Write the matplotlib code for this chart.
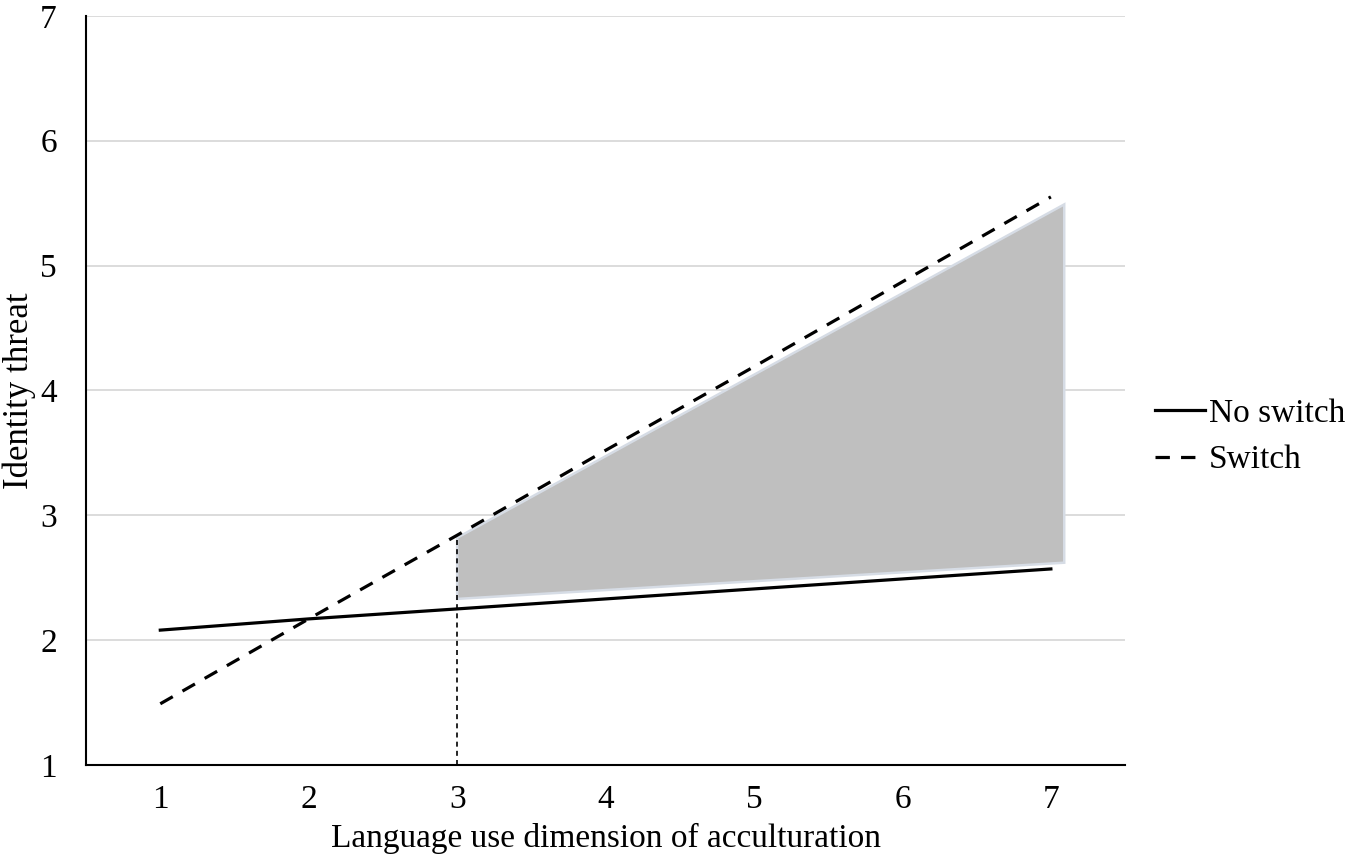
import matplotlib.pyplot as plt
import matplotlib.patches as patches

plt.rcParams['font.family'] = ['Liberation Serif', 'DejaVu Serif']

# data
x = [1, 2, 3, 4, 5, 6, 7]
no_switch = [2.08, 2.17, 2.25, 2.33, 2.41, 2.49, 2.57]
switch = [1.49, 2.17, 2.84, 3.52, 4.19, 4.87, 5.55]
# shaded region of significance (x from 3 up to just past 7)
region_x = [3.0, 7.09, 7.09, 3.0]
region_y = [2.82, 5.49, 2.62, 2.33]
cut_x = 3.0
cut_top = 2.82

fig = plt.figure(figsize=(13.45, 8.63), dpi=100)
ax = fig.add_axes([0.064, 0.1136, 0.7725, 0.868])

ax.add_patch(patches.Polygon(list(zip(region_x, region_y)), closed=True,
                             facecolor='#bfbfbf', edgecolor='#d6dce5', lw=1.8, zorder=2))
ax.plot([cut_x, cut_x], [1, cut_top], color='black', lw=1.2, ls=(0, (3, 2.5)), zorder=3)
ax.plot(x, no_switch, color='black', lw=2.3, label='No switch', zorder=4)
ax.plot(x, switch, color='black', lw=2.3, ls=(0, (4.5, 3.5)), label='Switch', zorder=4)

ax.set_xlim(0.5, 7.5)
ax.set_ylim(1, 7)
ax.set_xticks(x)
ax.set_yticks([1, 2, 3, 4, 5, 6, 7])
ax.tick_params(axis='both', length=0, labelsize=24)
ax.tick_params(axis='x', pad=14)
ax.tick_params(axis='y', pad=21)
ax.grid(axis='y', color='#d9d9d9', lw=1.3)
ax.set_axisbelow(True)
for side in ['top', 'right']:
    ax.spines[side].set_visible(False)
ax.spines['left'].set_linewidth(1.5)
ax.spines['bottom'].set_linewidth(1.5)

ax.set_xlabel('Language use dimension of acculturation', fontsize=24)
ax.set_ylabel('Identity threat', fontsize=25)
ax.xaxis.set_label_coords(0.5, -0.078)
ax.yaxis.set_label_coords(-0.0486, 0.5)

ax.legend(loc='center left', bbox_to_anchor=(1.029, 0.438), frameon=False, fontsize=24,
          handlelength=1.5, handletextpad=0.1, labelspacing=0.48, borderpad=0,
          borderaxespad=0)

fig.savefig('out.png', dpi=100)
